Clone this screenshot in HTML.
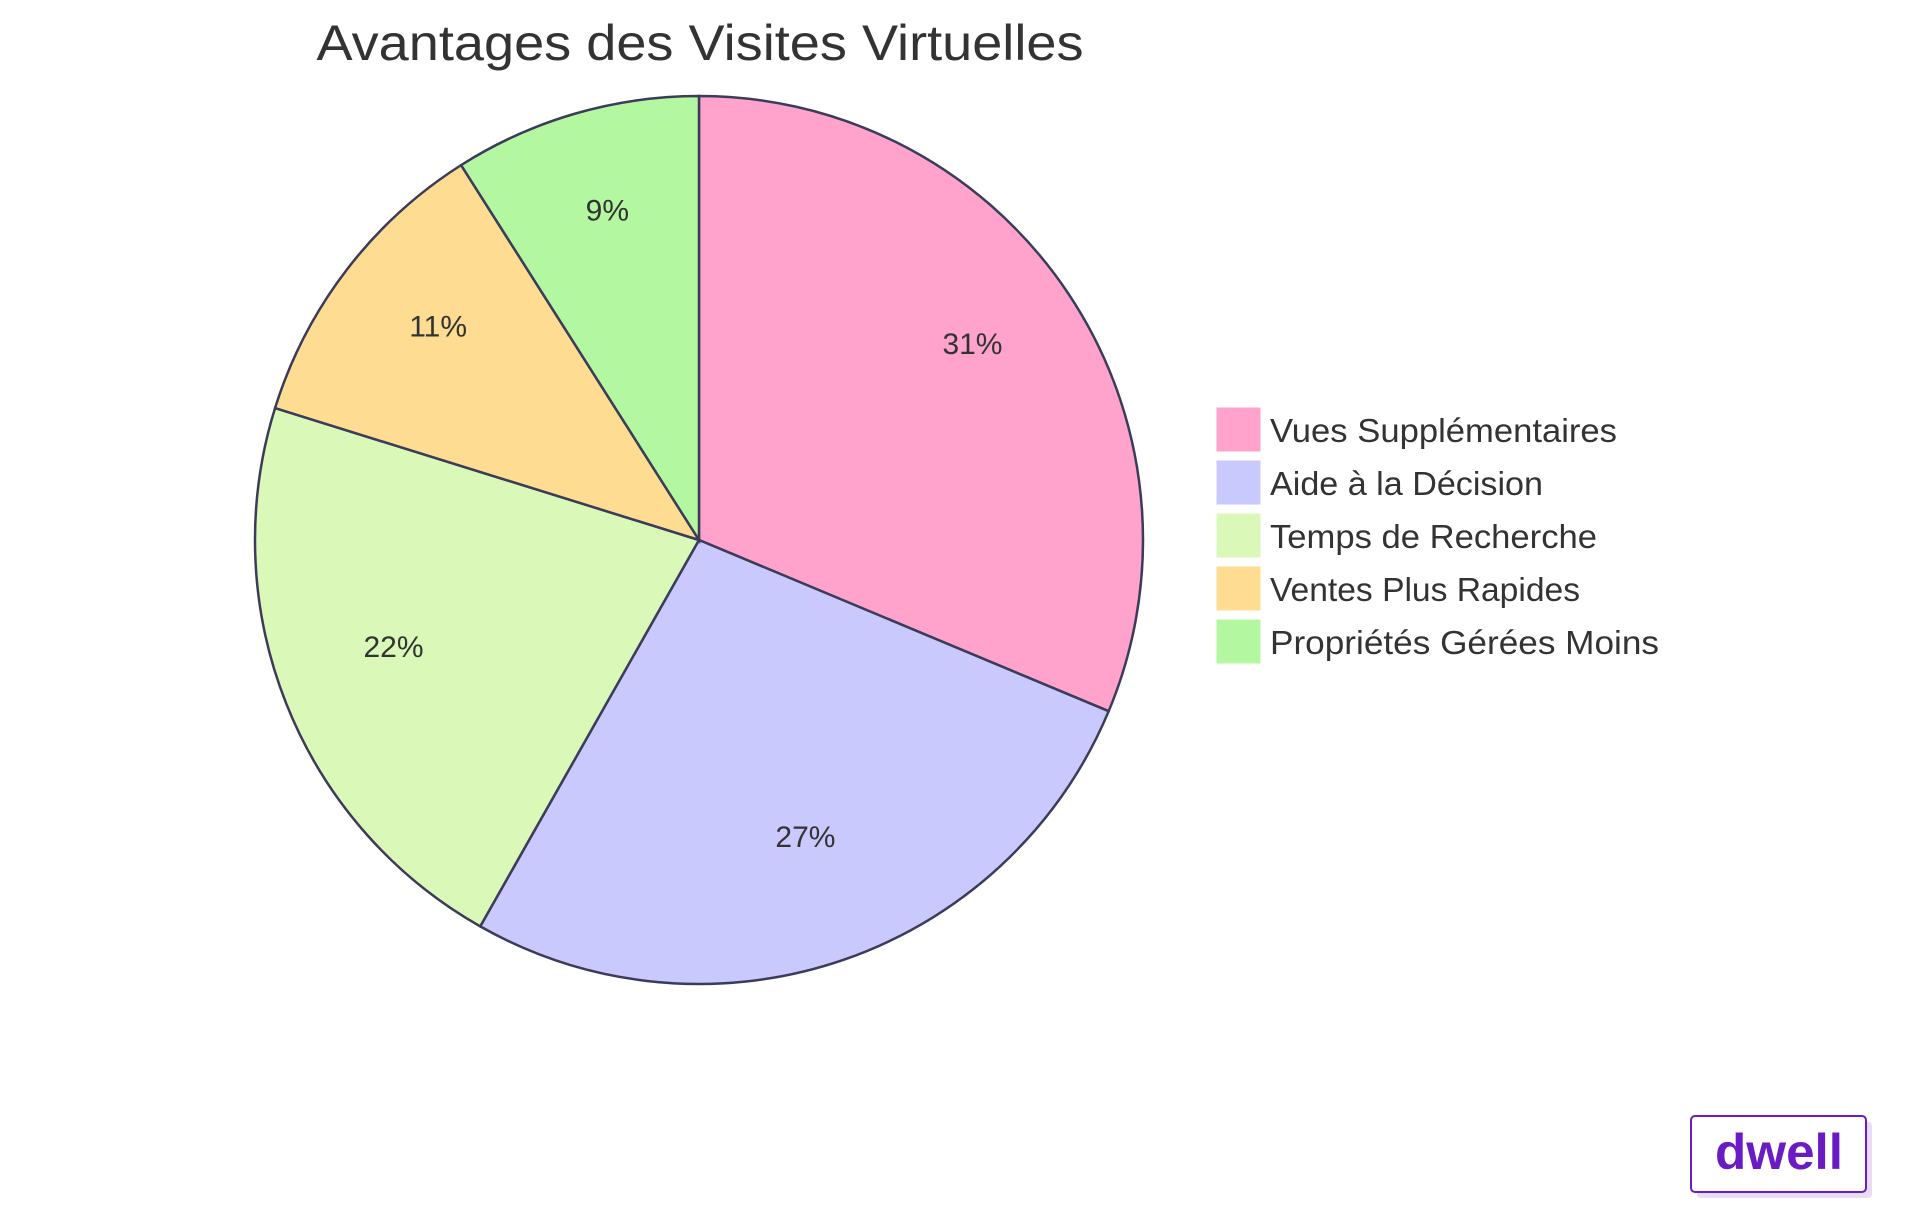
<!DOCTYPE html>
<html><head><meta charset="utf-8"><style>
html,body{margin:0;padding:0;background:#fff;width:1920px;height:1215px;overflow:hidden}
svg{display:block}
text{font-family:"Liberation Sans",sans-serif;fill:#333}
</style></head><body>
<svg id="chart" width="1920" height="1215" viewBox="0 0 1920 1215">
<text x="700" y="60" font-size="50" text-anchor="middle" textLength="767" lengthAdjust="spacingAndGlyphs">Avantages des Visites Virtuelles</text>
<g id="slices"></g>
<g id="labels"></g>
<g id="legend"></g>
<g>
<rect x="1697" y="1122" width="175" height="76" rx="4" fill="#e8dcf7"/>
<rect x="1691" y="1116" width="175" height="76" rx="4" fill="#fff" stroke="#6a1bc4" stroke-width="2"/>
<text x="1779" y="1169" font-size="50" font-weight="bold" text-anchor="middle" style="fill:#6a1bc4" textLength="128" lengthAdjust="spacingAndGlyphs">dwell</text>
</g>
</svg>
<script>
const categories = ["Vues Supplémentaires","Aide à la Décision","Temps de Recherche","Ventes Plus Rapides","Propriétés Gérées Moins"];
const values = [31.3,26.9,21.6,11.2,9.0];
const colors = ["#FFA3CC","#C9C9FD","#DAF9B8","#FEDD93","#B3F8A0"];
const legendWidths = [347,273,327,310,389];
const NS="http://www.w3.org/2000/svg";
const cx=699, cy=540, r=444;
const total=values.reduce((a,b)=>a+b,0);
const sg=document.getElementById('slices'), lg=document.getElementById('labels'), leg=document.getElementById('legend');
function pt(a,rr){return [cx+rr*Math.sin(a), cy-rr*Math.cos(a)];}
let acc=0;
values.forEach((v,i)=>{
  const a0=acc/total*2*Math.PI; acc+=v; const a1=acc/total*2*Math.PI;
  const p0=pt(a0,r), p1=pt(a1,r);
  const large=(a1-a0)>Math.PI?1:0;
  const p=document.createElementNS(NS,'path');
  p.setAttribute('d',`M${cx},${cy} L${p0[0]},${p0[1]} A${r},${r} 0 ${large} 1 ${p1[0]},${p1[1]} Z`);
  p.setAttribute('fill',colors[i]); p.setAttribute('stroke','#3b3b5a'); p.setAttribute('stroke-width','2.5');
  
  
  sg.appendChild(p);
  const am=(a0+a1)/2, lp=pt(am,r*0.74);
  const t=document.createElementNS(NS,'text');
  t.setAttribute('x',lp[0]); t.setAttribute('y',lp[1]-4);
  t.setAttribute('font-size','30'); t.setAttribute('text-anchor','middle');
  t.textContent=Math.round(v/total*100)+'%';
  
  
  lg.appendChild(t);
  const g=document.createElementNS(NS,'g');
  
  
  const y0=407+i*53;
  const sq=document.createElementNS(NS,'rect');
  sq.setAttribute('x',1216); sq.setAttribute('y',y0); sq.setAttribute('width',45); sq.setAttribute('height',45);
  sq.setAttribute('fill',colors[i]); sq.setAttribute('stroke','#fff'); sq.setAttribute('stroke-width','1');
  g.appendChild(sq);
  const lt=document.createElementNS(NS,'text');
  lt.setAttribute('x',1270); lt.setAttribute('y',y0+35);
  lt.setAttribute('font-size','33');
  lt.setAttribute('textLength',legendWidths[i]); lt.setAttribute('lengthAdjust','spacingAndGlyphs');
  lt.textContent=categories[i];
  g.appendChild(lt);
  leg.appendChild(g);
});
</script>
</body></html>
